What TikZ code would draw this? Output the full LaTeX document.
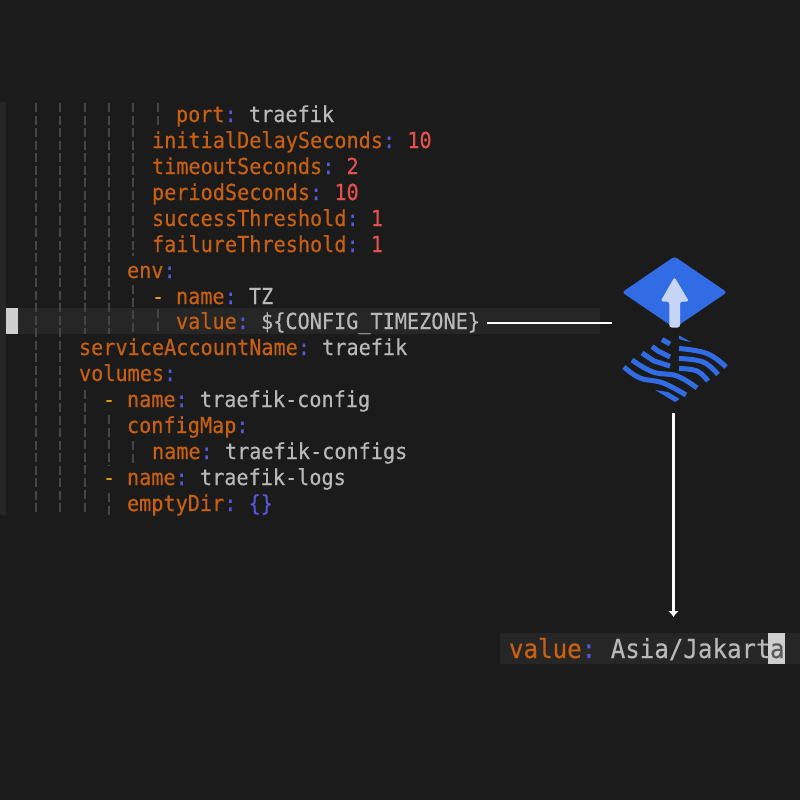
\documentclass[tikz,border=0pt]{standalone}
\usepackage{fontspec}
\setmonofont[FakeStretch=0.918,FakeBold=0.35]{DejaVu Sans Mono}
\usetikzlibrary{positioning,arrows.meta}
\definecolor{pagebg}{HTML}{1B1B1B}
\definecolor{linebg}{HTML}{262626}
\definecolor{guidecolor}{HTML}{454545}
\definecolor{keycolor}{HTML}{C8600F}
\definecolor{sepcolor}{HTML}{5557DD}
\definecolor{textcolor}{HTML}{B8B8B8}
\definecolor{numcolor}{HTML}{E5504F}
\definecolor{dashcolor}{HTML}{DE9A0C}
\definecolor{cursorcolor}{HTML}{CFCFCF}
\definecolor{kubeblue}{HTML}{326CE5}
\definecolor{kubelight}{HTML}{C6D5F6}
\newcommand{\ykey}[1]{\textcolor{keycolor}{#1}\textcolor{sepcolor}{:}}
\newcommand{\yval}[1]{\textcolor{textcolor}{#1}}
\newcommand{\ynum}[1]{\textcolor{numcolor}{#1}}
\newcommand{\ydash}{\textcolor{dashcolor}{-}}
\tikzstyle{every node}=[font=\fontsize{22}{26}\selectfont\ttfamily,inner sep=0,outer sep=0,anchor=base west]
\tikzstyle{guide}=[guidecolor,line width=2.6pt,dash pattern=on 9pt off 3.5pt]
\tikzstyle{link}=[white,line width=2.5pt]
\tikzstyle{stripe}=[kubeblue,line width=5pt]
\begin{document}
\begin{tikzpicture}[x=1pt,y=-1pt]
		\useasboundingbox (0,0) rectangle (800,800);
		\fill[pagebg] (0,0) rectangle (800,800);
		\fill[linebg] (0,102) rectangle (6,515);
		\fill[linebg] (0,308) rectangle (600,334);
		\fill[cursorcolor] (6,308) rectangle (18,334);
		% indent guides
		\draw[guide] (36,103) -- (36,515);
		\draw[guide] (60,103) -- (60,515);
		\draw[guide] (85,103) -- (85,334);
		\draw[guide] (85,390) -- (85,515);
		\draw[guide] (109,103) -- (109,334);
		\draw[guide] (109,415) -- (109,466);
		\draw[guide] (109,493) -- (109,515);
		\draw[guide] (133,103) -- (133,256);
		\draw[guide] (133,285) -- (133,334);
		\draw[guide] (133,441) -- (133,466);
		\draw[guide] (158,103) -- (158,128);
		\draw[guide] (158,309) -- (158,334);
		% yaml lines
		\node (port) at (176,122) {\ykey{port} \yval{traefik}};
		\node (delay) at (152,148) {\ykey{initialDelaySeconds} \ynum{10}};
		\node (timeout) at (152,174) {\ykey{timeoutSeconds} \ynum{2}};
		\node (period) at (152,200) {\ykey{periodSeconds} \ynum{10}};
		\node (success) at (152,226) {\ykey{successThreshold} \ynum{1}};
		\node (failure) at (152,252) {\ykey{failureThreshold} \ynum{1}};
		\node (env) at (127,278) {\ykey{env}};
		\node (dashtz) at (152,304) {\ydash};
		\node (nametz) at (176,304) {\ykey{name} \yval{TZ}};
		\node (value) at (176,329) {\ykey{value} \yval{\$\{CONFIG\_TIMEZONE\}}};
		\node (account) at (79,355) {\ykey{serviceAccountName} \yval{traefik}};
		\node (volumes) at (79,381) {\ykey{volumes}};
		\node (dashcfg) at (103,407) {\ydash};
		\node (namecfg) at (127,407) {\ykey{name} \yval{traefik-config}};
		\node (configmap) at (127,433) {\ykey{configMap}};
		\node (namemap) at (152,459) {\ykey{name} \yval{traefik-configs}};
		\node (dashlog) at (103,485) {\ydash};
		\node (namelog) at (127,485) {\ykey{name} \yval{traefik-logs}};
		\node (emptydir) at (127,511) {\ykey{emptyDir} \textcolor{sepcolor}{\{\}}};
		% result line
		\fill[linebg] (500,633) rectangle (800,664);
		\fill[cursorcolor] (768,633) rectangle (785,664);
		\node[font=\fontsize{26.3}{30}\selectfont\ttfamily] (result) at (509,658) {\ykey{value} \yval{Asia/Jakart}};
		\node[font=\fontsize{26.3}{30}\selectfont\ttfamily,text=black!65] (resultend) at (770,658) {a};
		% icon
		\fill[kubeblue,rounded corners=3pt] (674.5,256.5) -- (727,292.3) -- (674.5,328) -- (622,292.3) -- cycle;
		\fill[kubelight,rounded corners=2.5pt] (674.5,277) -- (689,301.5) -- (680,301.5) -- (680,327.5) -- (669.3,327.5) -- (669.3,301.5) -- (660.5,301.5) -- cycle;
		\fill[kubeblue] (679,335.5) -- (691,342) -- (686,341) -- (679,339) -- cycle;
		\draw[stripe] (662,339.5) -- (670,344);
		\draw[stripe] plot[smooth,tension=.7] coordinates {(679,348.5) (707,353.5) (726,367)};
		\draw[stripe] (652,346.5) -- (658,351) -- (670,357);
		\draw[stripe] plot[smooth,tension=.7] coordinates {(679,358.5) (703,362) (718,374.5)};
		\draw[stripe] (642,353) -- (654,361) -- (670,366);
		\draw[stripe] plot[smooth,tension=.7] coordinates {(679,368.5) (697,371) (708,381)};
		\draw[stripe] plot[smooth,tension=.7] coordinates {(632,360) (653,372) (677,376) (697,388)};
		\draw[stripe] plot[smooth,tension=.7] coordinates {(624,367) (640,378) (663,383) (686,395)};
		\fill[kubeblue] (655,390) -- (668,392) -- (679.5,399) -- (675,402) -- cycle;
		% links
		\coordinate (linkstart) at (487,323);
		\coordinate (linkend) at (612,323);
		\coordinate (downstart) at (673.5,413);
		\coordinate (downend) at (673.5,617);
		\draw[link] (linkstart) -- (linkend);
		\draw[link,-{Latex[width=11pt,length=6pt]}] (downstart) -- (downend);
	\end{tikzpicture}
\end{document}
